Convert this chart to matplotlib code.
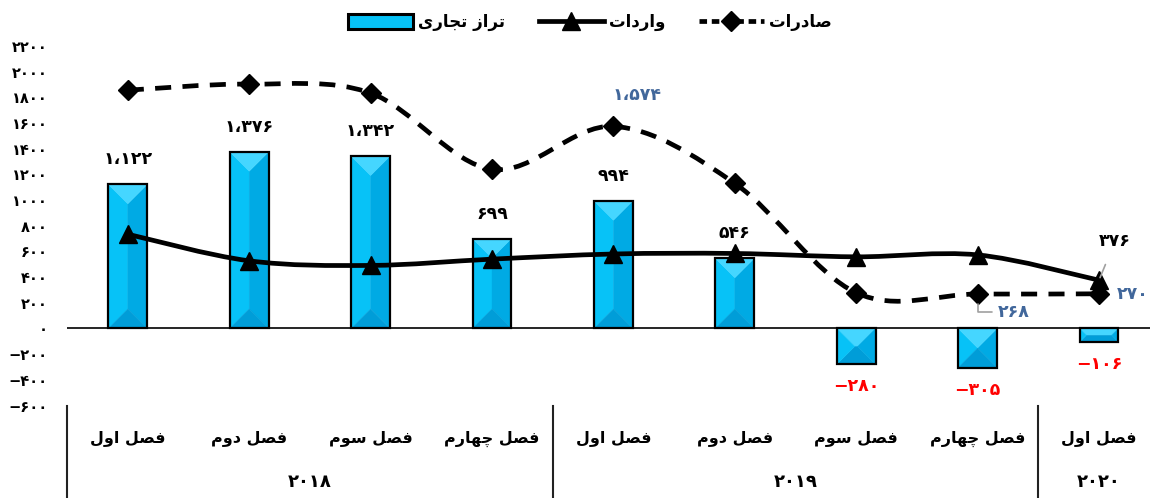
import matplotlib
matplotlib.use("Agg")
import matplotlib.pyplot as plt
from matplotlib.path import Path
from matplotlib.patches import PathPatch, Polygon, Patch
from matplotlib.lines import Line2D
import matplotlib.transforms as mtransforms
import numpy as np

# ---------------- data ----------------
quarters = ["فصل اول", "فصل دوم", "فصل سوم", "فصل چهارم",
            "فصل اول", "فصل دوم", "فصل سوم", "فصل چهارم", "فصل اول"]
years = ["2018", "2019", "2020"]
year_spans = [(0, 3), (4, 7), (8, 8)]
balance = [1122, 1376, 1342, 699, 994, 546, -280, -305, -106]
imports = [734, 527, 491, 540, 580, 584, 558, 573, 376]
exports = [1856, 1903, 1833, 1239, 1574, 1130, 278, 268, 270]
yticks = list(range(-600, 2201, 200))
legend_labels = ["تراز تجاری", "واردات", "صادرات"]

# ---------------- Persian helpers ----------------
FORMS = {
    'ا': ('\uFE8D', '\uFE8E', None, None),
    'و': ('\uFEED', '\uFEEE', None, None),
    'د': ('\uFEA9', '\uFEAA', None, None),
    'ر': ('\uFEAD', '\uFEAE', None, None),
    'ز': ('\uFEAF', '\uFEB0', None, None),
    'ف': ('\uFED1', '\uFED2', '\uFED3', '\uFED4'),
    'ص': ('\uFEB9', '\uFEBA', '\uFEBB', '\uFEBC'),
    'ل': ('\uFEDD', '\uFEDE', '\uFEDF', '\uFEE0'),
    'م': ('\uFEE1', '\uFEE2', '\uFEE3', '\uFEE4'),
    'س': ('\uFEB1', '\uFEB2', '\uFEB3', '\uFEB4'),
    'چ': ('\uFB7A', '\uFB7B', '\uFB7C', '\uFB7D'),
    'ه': ('\uFEE9', '\uFEEA', '\uFEEB', '\uFEEC'),
    'ت': ('\uFE95', '\uFE96', '\uFE97', '\uFE98'),
    'ج': ('\uFE9D', '\uFE9E', '\uFE9F', '\uFEA0'),
    'ی': ('\uFBFC', '\uFBFD', '\uFBFE', '\uFBFF'),
}


def shape(text):
    out = []
    n = len(text)
    for i, ch in enumerate(text):
        if ch not in FORMS:
            out.append(ch)
            continue
        f = FORMS[ch]
        prev = text[i - 1] if i > 0 else None
        nxt = text[i + 1] if i < n - 1 else None
        pj = prev in FORMS and FORMS[prev][2] is not None
        nj = (nxt in FORMS) and f[2] is not None
        if pj and nj:
            out.append(f[3])
        elif pj:
            out.append(f[1])
        elif nj:
            out.append(f[2])
        else:
            out.append(f[0])
    return ''.join(reversed(out))


PDIG = str.maketrans('0123456789,-', '۰۱۲۳۴۵۶۷۸۹،−')


def pnum(v, sep=True):
    s = f"{v:,}" if sep else f"{v}"
    return s.translate(PDIG)


FONT = 'DejaVu Sans'
plt.rcParams['font.family'] = [FONT]
plt.rcParams['font.weight'] = 'bold'

# ---------------- figure ----------------
W, H = 1150, 498
fig = plt.figure(figsize=(W / 100, H / 100), dpi=100)
ax_left, ax_top, ax_bot = 67.1, 46.0, 405.5
unit = 121.4
ax = fig.add_axes([ax_left / W, (H - ax_bot) / H, (W - ax_left) / W, (ax_bot - ax_top) / H])
ax.set_xlim(-0.5, (W - ax_left) / unit - 0.5)
ax.set_ylim(-600, 2200)
for s in ax.spines.values():
    s.set_visible(False)
ax.set_xticks([])
ax.set_yticks(yticks)
ax.set_yticklabels([pnum(v, sep=False) for v in yticks], fontsize=10.5, fontweight='bold')
ax.tick_params(axis='y', length=0, pad=14)
ax.axhline(0, color='black', lw=1.2, zorder=4)

x = np.arange(len(balance))
bw = 0.32

# bars with bevel
bars = ax.bar(x, balance, width=bw, facecolor='none', edgecolor='black', lw=1.6, zorder=3)
fig.canvas.draw()
T = ax.transData
inv = T.inverted()
c_top, c_left, c_right, c_bot = '#45D6FF', '#07C2F7', '#00AAE4', '#009DD8'
for xi, v in zip(x, balance):
    (X0, Y0) = T.transform((xi - bw / 2, min(0, v)))
    (X1, Y1) = T.transform((xi + bw / 2, max(0, v)))
    Wd, Hd = X1 - X0, Y1 - Y0
    cx, cy = (X0 + X1) / 2, (Y0 + Y1) / 2
    if Hd >= Wd:
        d = Wd / 2
        rt, rb = (cx, Y1 - d), (cx, Y0 + d)
        faces = [([(X0, Y1), (X0, Y0), rb, rt], c_left),
                 ([(X1, Y1), (X1, Y0), rb, rt], c_right),
                 ([(X0, Y1), (X1, Y1), rt], c_top),
                 ([(X0, Y0), (X1, Y0), rb], c_bot)]
    else:
        d = Hd / 2
        rl, rr = (X0 + d, cy), (X1 - d, cy)
        faces = [([(X0, Y1), (X1, Y1), rr, rl], c_top),
                 ([(X0, Y0), (X1, Y0), rr, rl], c_bot),
                 ([(X0, Y1), (X0, Y0), rl], c_left),
                 ([(X1, Y1), (X1, Y0), rr], c_right)]
    for pts, col in faces:
        dpts = inv.transform(pts)
        ax.add_patch(Polygon(dpts, closed=True, facecolor=col, edgecolor=col, lw=0.3, zorder=2))


def smooth_path(xs, ys):
    P = np.column_stack([xs, ys]).astype(float)
    n = len(P)
    verts = [P[0]]
    codes = [Path.MOVETO]
    for i in range(n - 1):
        p0 = P[i - 1] if i > 0 else P[i]
        p1, p2 = P[i], P[i + 1]
        p3 = P[i + 2] if i + 2 < n else P[i + 1]
        c1 = p1 + (p2 - p0) / 6.0
        c2 = p2 - (p3 - p1) / 6.0
        verts += [c1, c2, p2]
        codes += [Path.CURVE4] * 3
    return Path(verts, codes)


ax.add_patch(PathPatch(smooth_path(x, imports), fill=False, edgecolor='black', lw=3.4,
                       capstyle='round', joinstyle='round', zorder=5))
ax.add_patch(PathPatch(smooth_path(x, exports), fill=False, edgecolor='black', lw=3.4,
                       linestyle=(0, (3.4, 2.4)), capstyle='butt', zorder=5))
ax.plot(x, imports, linestyle='none', marker='^', ms=13, color='black', zorder=6)
ax.plot(x, exports, linestyle='none', marker='D', ms=10.5, color='black', zorder=6)

# value labels
LFS = 12.5
for xi, v in zip(x, balance):
    if v >= 0:
        ax.annotate(pnum(v), (xi, v), xytext=(0, 25), textcoords='offset pixels',
                    ha='center', va='center', fontsize=LFS, fontweight='bold', color='black', zorder=7)
    else:
        ax.annotate(pnum(v), (xi, v), xytext=(0, -22), textcoords='offset pixels',
                    ha='center', va='center', fontsize=LFS, fontweight='bold', color='#FF0000', zorder=7)

blue = '#41679B'
ax.annotate(pnum(exports[4]), (4, exports[4]), xytext=(24, 31), textcoords='offset pixels',
            ha='center', va='center', fontsize=LFS, fontweight='bold', color=blue, zorder=7)
ax.annotate(pnum(exports[7]), (7, exports[7]), xytext=(20, -18), textcoords='offset pixels',
            ha='left', va='center', fontsize=LFS, fontweight='bold', color=blue, zorder=7,
            arrowprops=dict(arrowstyle='-', color='#A0A0A0', lw=1.2, shrinkA=2, shrinkB=7,
                            connectionstyle='angle,angleA=0,angleB=90,rad=0'))
ax.annotate(pnum(exports[8]), (8, exports[8]), xytext=(50, 0), textcoords='offset pixels',
            ha='right', va='center', fontsize=LFS, fontweight='bold', color=blue, zorder=7,
            annotation_clip=False)
ax.annotate(pnum(imports[8]), (8, imports[8]), xytext=(16, 39), textcoords='offset pixels',
            ha='center', va='center', fontsize=LFS, fontweight='bold', color='black', zorder=7,
            arrowprops=dict(arrowstyle='-', color='#A0A0A0', lw=1.2, shrinkA=9, shrinkB=2))

# category axis
trans = mtransforms.blended_transform_factory(ax.transData, ax.transAxes)
depth = -(H - ax_bot) / (ax_bot - ax_top)
for (a, b) in year_spans:
    xb = a - 0.5
    ax.plot([xb, xb], [0, depth], transform=trans, color='#222222', lw=1.5, clip_on=False)
for xi, q in zip(x, quarters):
    ax.text(xi, -33 / (ax_bot - ax_top), shape(q), transform=trans, ha='center', va='center',
            fontsize=11.5, fontweight='bold')
for (a, b), yr in zip(year_spans, years):
    ax.text((a + b) / 2, -76 / (ax_bot - ax_top), pnum(int(yr), sep=False), transform=trans,
            ha='center', va='center', fontsize=13, fontweight='bold')

# legend
h_bar = Patch(facecolor='#07C2F7', edgecolor='black', lw=2.2)
h_imp = Line2D([], [], color='black', lw=3.4, marker='^', ms=13)
h_exp = Line2D([], [], color='black', lw=3.4, marker='D', ms=10, linestyle=(0, (1.6, 1.0)))
fig.legend([h_bar, h_imp, h_exp], [shape(l) for l in legend_labels], loc='center',
           bbox_to_anchor=(0.513, 0.955), ncol=3, frameon=False,
           handlelength=3.9, handleheight=1.0, handletextpad=0.3, columnspacing=2.0,
           prop={'weight': 'bold', 'size': 12})

fig.savefig('out.png', dpi=100)
